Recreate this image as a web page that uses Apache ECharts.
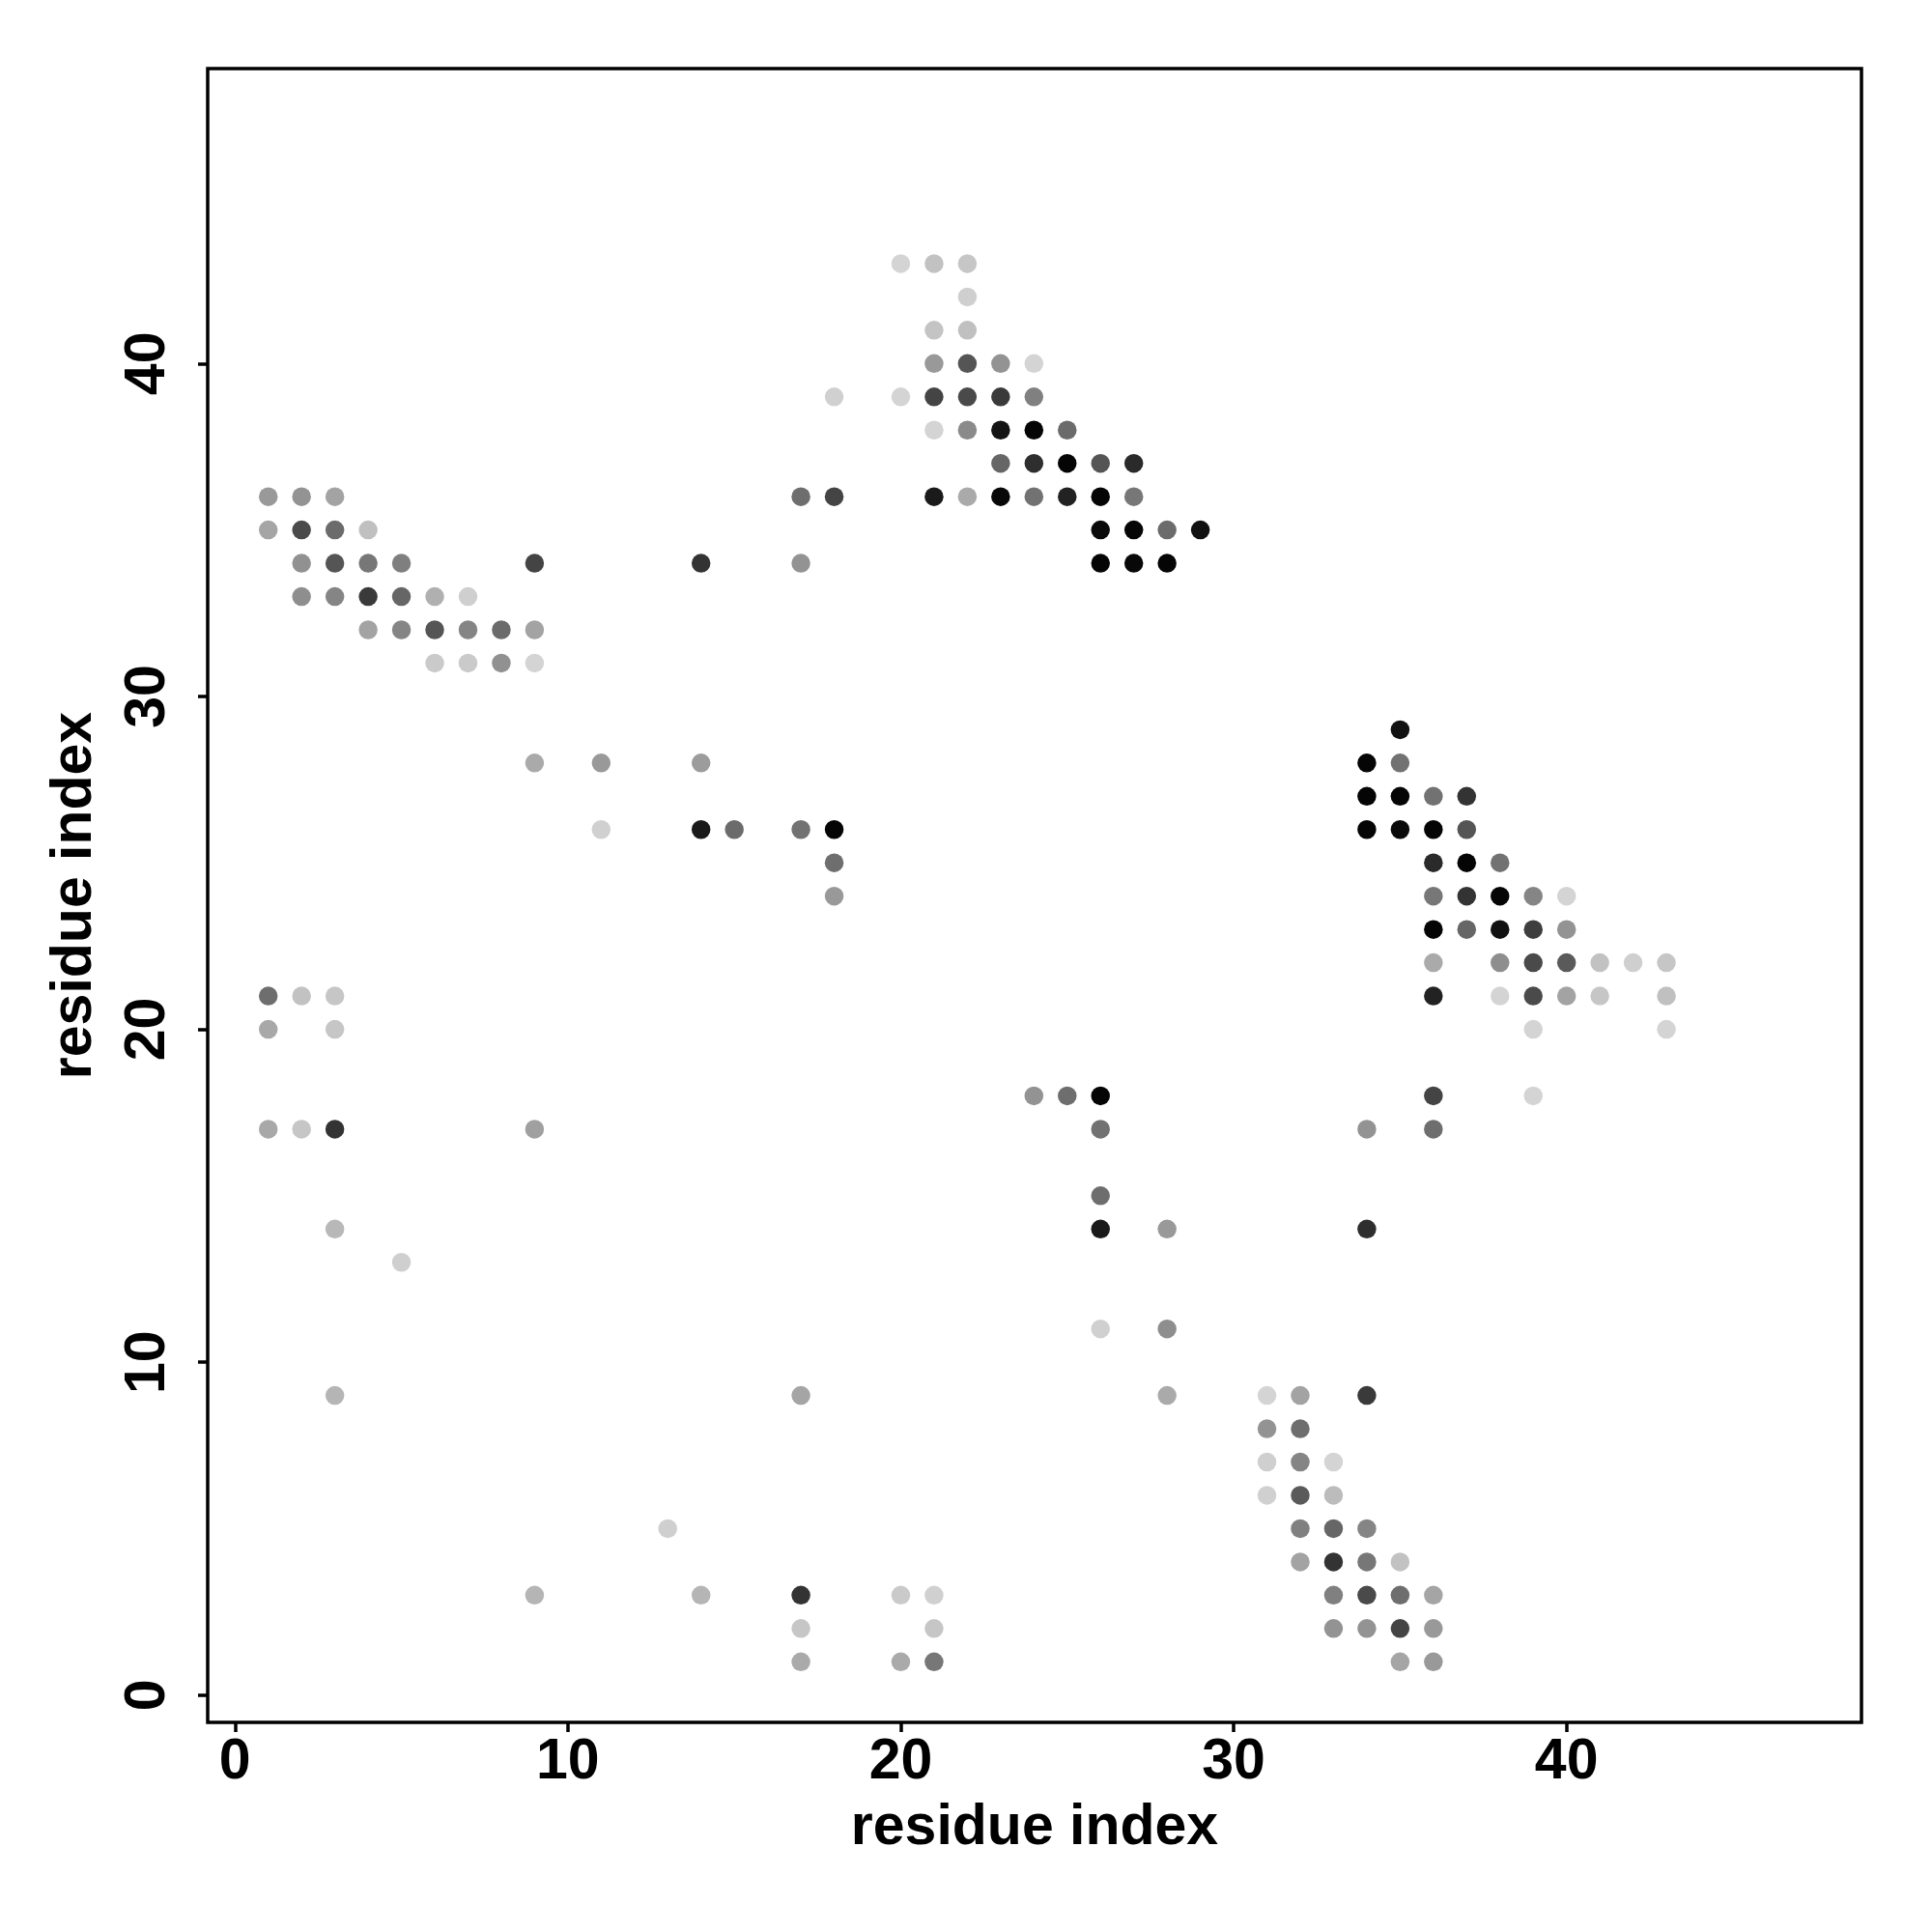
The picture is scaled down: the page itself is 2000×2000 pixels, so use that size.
<!DOCTYPE html>
<html>
<head>
<meta charset="utf-8">
<script src="https://cdn.jsdelivr.net/npm/echarts@6/dist/echarts.min.js"></script>
<style>html,body{margin:0;padding:0;background:#fff}#c{width:2000px;height:2000px}</style>
</head>
<body>
<div id="c"></div>
<script>
// residue i (x), residue j (y), grey shade (0 = black, 255 = white)
const xs = [
 1,2,3, 1,2,3,4, 2,3,4,5,9, 2,3,4,5,6,7, 4,5,6,7,8,9, 6,7,8,9, 14,
 9,11,14, 11,14,15,17,18, 18,18,
 20,21,22, 22, 21,22, 21,22,23,24, 18,20,21,22,23,24, 21,22,23,24,25, 23,24,25,26,27,
 17,18,21,22,23,24,25,26,27, 26,27,28,29, 17,26,27,28,
 35, 34,35, 34,35,36,37, 34,35,36,37, 36,37,38, 36,37,38,39,40, 36,37,38,39,40,
 36,38,39,40,41,42,43, 36,38,39,40,41,43, 39,43, 36,39, 34,36, 34, 34,
 1,2,3, 1,3, 1,2,3,9, 3,5,3,9,
 17,13,14,17,20,21, 17,21,17,20,21,
 24,25,26,26,26,26,28,26,28,28,
 31,32, 31,32, 31,32,33, 31,32,33, 32,33,34, 32,33,34,35, 33,34,35,36, 33,34,35,36, 35,36
];
const ys = [
 36,36,36, 35,35,35,35, 34,34,34,34,34, 33,33,33,33,33,33, 32,32,32,32,32,32, 31,31,31,31, 34,
 28,28,28, 26,26,26,26,26, 25,24,
 43,43,43, 42, 41,41, 40,40,40,40, 39,39,39,39,39,39, 38,38,38,38,38, 37,37,37,37,37,
 36,36,36,36,36,36,36,36,36, 35,35,35,35, 34,34,34,34,
 29, 28,28, 27,27,27,27, 26,26,26,26, 25,25,25, 24,24,24,24,24, 23,23,23,23,23,
 22,22,22,22,22,22,22, 21,21,21,21,21,21, 20,20, 18,18, 17,17, 14, 9,
 21,21,21, 20,20, 17,17,17,17, 14,13,9,3,
 9,5,3,3,3,3, 2,2,1,1,1,
 18,18,18,17,15,14,14,11,11,9,
 9,9, 8,8, 7,7,7, 6,6,6, 5,5,5, 4,4,4,4, 3,3,3,3, 2,2,2,2, 1,1
];
const shades = [
 153,147,163, 165,74,107,192, 145,85,119,127,68, 142,133,58,102,176,207, 163,133,85,133,107,163, 202,202,145,212, 51,
 170,153,156, 208,26,107,114,5, 110,153,
 212,194,198, 207, 196,192, 153,85,147,212, 208,212,68,74,58,128, 212,138,20,5,107, 102,46,5,85,42,
 110,68,26,170,8,114,34,5,119, 10,5,107,17, 147,5,8,5,
 17, 5,114, 5,5,114,51, 5,10,5,85, 42,5,114, 119,51,5,133,212, 5,102,17,62,147,
 170,142,74,90,194,207,198, 34,212,74,163,198,192, 212,212, 68,212, 147,110, 46, 58,
 110,194,198, 168,198, 168,198,51,160, 184,207,181,181,
 165,207,181,51,202,208, 198,198,170,170,119,
 147,110,5,114,110,26,153,208,142,170,
 212,163, 147,110, 207,133,212, 208,90,188, 128,102,133, 163,51,119,194, 128,74,110,165, 147,147,68,153, 165,153
];
const xTicks = [0, 10, 20, 30, 40];
const yTicks = [0, 10, 20, 30, 40];

const points = xs.map((x, i) => [x, ys[i], shades[i]]);
const FONT = '"Liberation Sans", Arial, Helvetica, sans-serif';
const chart = echarts.init(document.getElementById('c'), null, {renderer: 'canvas'});
const axisCommon = {
  type: 'value', min: -0.82, max: 48.86,
  name: 'residue index', nameLocation: 'middle',
  nameTextStyle: {fontFamily: FONT, fontWeight: 'bold', fontSize: 59, color: '#000'},
  axisLine: {show: false, onZero: false},
  splitLine: {show: false},
  axisTick: {show: true, inside: false, length: 10, lineStyle: {color: '#000', width: 3.5}},
};
chart.setOption({
  animation: false,
  backgroundColor: '#fff',
  grid: {left: 215, right: 73, top: 71, bottom: 217, show: true, borderColor: '#000', borderWidth: 3.5, backgroundColor: 'transparent'},
  xAxis: Object.assign({}, axisCommon, {
    nameGap: 80,
    axisTick: Object.assign({}, axisCommon.axisTick, {customValues: xTicks}),
    axisLabel: {customValues: xTicks, margin: 12, fontFamily: FONT, fontWeight: 'bold', fontSize: 59, color: '#000'}
  }),
  yAxis: Object.assign({}, axisCommon, {
    nameGap: 108,
    axisTick: Object.assign({}, axisCommon.axisTick, {customValues: yTicks}),
    axisLabel: {customValues: yTicks, rotate: 90, margin: 32, fontFamily: FONT, fontWeight: 'bold', fontSize: 59, color: '#000'}
  }),
  series: [{
    type: 'scatter',
    data: points,
    symbol: 'circle',
    symbolSize: 19.5,
    itemStyle: {
      opacity: 1,
      color: p => { const g = p.data[2]; return 'rgb(' + g + ',' + g + ',' + g + ')'; }
    }
  }]
});
</script>
</body>
</html>
